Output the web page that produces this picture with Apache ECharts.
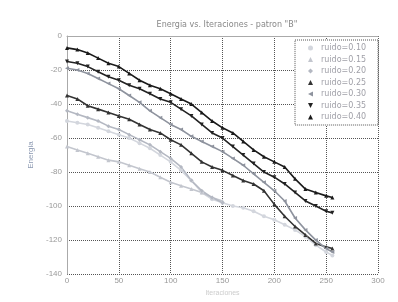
<!DOCTYPE html>
<html>
<head>
<meta charset="utf-8">
<script src="https://cdn.jsdelivr.net/npm/echarts@6/dist/echarts.min.js"></script>
<style>
html, body { margin: 0; padding: 0; background: #fff; }
#chart { width: 398px; height: 302px; }
</style>
</head>
<body>
<div id="chart"></div>
<script>
// iteraciones (eje x)
var iters = [0, 10, 20, 30, 40, 50, 60, 70, 80, 90, 100, 110, 120, 130, 140, 150, 160, 170, 180, 190, 200, 210, 220, 230, 240, 250, 256];

// energia por nivel de ruido
var ruido040 = [-7, -8, -10, -13, -16, -18, -22, -26, -29, -31, -34, -37, -40, -45, -50, -54, -57, -62, -67, -71, -74, -77, -84, -90, -92, -94, -95];
var ruido035 = [-15, -16, -18, -21, -24, -26, -29, -31, -34, -37, -39, -43, -47, -52, -57, -60, -65, -70, -75, -80, -83, -87, -92, -97, -100, -103, -104];
var ruido030 = [-19, -20, -22, -25, -28, -31, -35, -39, -44, -48, -52, -55, -59, -62, -65, -68, -72, -76, -81, -86, -91, -97, -107, -114, -120, -125, -127];
var ruido025 = [-35, -37, -41, -43, -45, -47, -49, -52, -55, -57, -61, -64, -69, -74, -77, -79, -82, -85, -87, -91, -99, -106, -112, -117, -122, -124, -125];
var ruido020 = [-44, -46, -48, -50, -53, -55, -58, -61, -64, -68, -72, -77, -85, -91, -95, -98];
var ruido015 = [-65, -67, -69, -71, -73, -74, -76, -78, -80, -83, -86, -88, -90, -92, -95, -97];
var ruido010 = [-50, -51, -52, -54, -56, -58, -60, -63, -66, -70, -74, -79, -85, -92, -96, -98, -100, -101, -103, -106, -108, -111, -114, -118, -123, -127, -129];

var xTicks = [0, 50, 100, 150, 200, 250, 300];
var yTicks = [0, -20, -40, -60, -80, -100, -120, -140];

var triUp = 'path://M0,10L5,0L10,10Z';
var triDown = 'path://M0,0L10,0L5,10Z';
var triLeft = 'path://M10,0L10,10L0,5Z';

function pairs(vals) {
	var out = [];
	for (var i = 0; i < vals.length; i++) {
		out.push([iters[i], vals[i]]);
	}
	return out;
}

function mkSeries(name, vals, color, symbol) {
	return {
		name: name,
		type: 'line',
		data: pairs(vals),
		symbol: symbol,
		symbolSize: 4,
		showSymbol: true,
		lineStyle: { color: color, width: 1.6 },
		itemStyle: { color: color },
		animation: false
	};
}

var chart = echarts.init(document.getElementById('chart'));
var option = {
	backgroundColor: '#fff',
	title: {
		text: 'Energia vs. Iteraciones - patron "B"',
		left: 222,
		top: 16,
		textAlign: 'center',
		textStyle: { color: '#888', fontSize: 8, fontWeight: 'normal', fontFamily: 'DejaVu Sans' }
	},
	legend: {
		orient: 'vertical',
		left: 295,
		top: 40,
		padding: [4, 12, 4, 13],
		itemGap: 3.5,
		itemWidth: 5,
		itemHeight: 5,
		borderColor: '#555',
		borderWidth: 1,
		borderType: 'dotted',
		backgroundColor: '#fff',
		textStyle: { color: '#a0a0a8', fontSize: 8, fontFamily: 'DejaVu Sans', padding: [0, 0, 0, 3] },
		data: [
			{ name: 'ruido=0.10', icon: 'circle' },
			{ name: 'ruido=0.15', icon: triUp },
			{ name: 'ruido=0.20', icon: 'diamond' },
			{ name: 'ruido=0.25', icon: triUp },
			{ name: 'ruido=0.30', icon: triLeft },
			{ name: 'ruido=0.35', icon: triDown },
			{ name: 'ruido=0.40', icon: triUp }
		]
	},
	grid: { left: 67, right: 20, top: 36, bottom: 20, containLabel: false },
	xAxis: {
		type: 'value',
		min: 0,
		max: 300,
		interval: 50,
		name: 'Iteraciones',
		nameLocation: 'middle',
		nameGap: 12,
		nameTextStyle: { color: '#ccc', fontSize: 7 },
		axisLine: { show: true, lineStyle: { color: '#aaa' } },
		axisTick: { show: false },
		axisLabel: { color: '#999', fontSize: 8, margin: 3 },
		splitLine: { show: true, lineStyle: { color: '#555', type: 'dotted', width: 1 } }
	},
	yAxis: {
		type: 'value',
		min: -140,
		max: 0,
		interval: 20,
		name: 'Energia',
		nameLocation: 'middle',
		nameGap: 28,
		nameTextStyle: { color: '#8e9bb3', fontSize: 8 },
		axisLine: { show: true, lineStyle: { color: '#aaa' } },
		axisTick: { show: false },
		axisLabel: { color: '#999', fontSize: 8, margin: 5 },
		splitLine: { show: true, lineStyle: { color: '#555', type: 'dotted', width: 1 } }
	},
	series: [
		mkSeries('ruido=0.10', ruido010, '#d3d6dd', 'circle'),
		mkSeries('ruido=0.15', ruido015, '#c3c6ce', triUp),
		mkSeries('ruido=0.20', ruido020, '#b4b8c2', 'diamond'),
		mkSeries('ruido=0.25', ruido025, '#333', triUp),
		mkSeries('ruido=0.30', ruido030, '#8e939e', triLeft),
		mkSeries('ruido=0.35', ruido035, '#222', triDown),
		mkSeries('ruido=0.40', ruido040, '#1a1a1a', triUp)
	]
};
chart.setOption(option);
</script>
</body>
</html>
